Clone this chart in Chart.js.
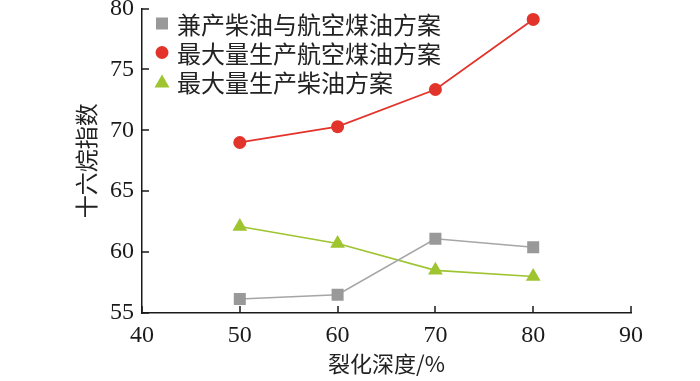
<!DOCTYPE html>
<html><head><meta charset="utf-8">
<script src="https://cdn.jsdelivr.net/npm/chart.js@4/dist/chart.umd.min.js"></script>
<style>html,body{margin:0;padding:0;background:#fff;}#wrap{width:700px;height:381px;}</style>
</head><body><div id="wrap"><canvas id="c" width="700" height="381"></canvas></div>
<script>
const crackingDepth = [50, 60, 70, 80];
const coProduction = [56.15, 56.5, 61.1, 60.4];
const maxJetFuel = [69.0, 70.3, 73.35, 79.1];
const maxDiesel = [62.1, 60.7, 58.5, 58.0];
const seriesNames = ['兼产柴油与航空煤油方案', '最大量生产航空煤油方案', '最大量生产柴油方案'];
const xTicks = [40, 50, 60, 70, 80, 90];
const yTicks = [55, 60, 65, 70, 75, 80];

const toPts = arr => crackingDepth.map((x, i) => ({x: x, y: arr[i]}));
const serif = "'Liberation Serif', serif";
const cjk = "'Noto Sans CJK SC', sans-serif";

const inwardTicks = {
  id: 'inwardTicks',
  afterDraw(chart) {
    const ctx = chart.ctx, xs = chart.scales.x, ys = chart.scales.y;
    ctx.save();
    ctx.strokeStyle = '#1a1a1a';
    ctx.lineWidth = 1.5;
    ctx.beginPath();
    xTicks.forEach(v => { const px = Math.round(xs.getPixelForValue(v)); ctx.moveTo(px, ys.bottom); ctx.lineTo(px, ys.bottom - 7); });
    yTicks.forEach(v => { const py = Math.round(ys.getPixelForValue(v)); ctx.moveTo(xs.left, py); ctx.lineTo(xs.left + 7, py); });
    ctx.stroke();
    ctx.restore();
  }
};

const customLegend = {
  id: 'customLegend',
  afterDraw(chart) {
    const ctx = chart.ctx, a = chart.chartArea;
    ctx.save();
    chart.data.datasets.forEach((ds, i) => {
      const cx = a.left + 20, cy = a.top + 15 + i * 29;
      ctx.fillStyle = ds.pointBackgroundColor;
      ctx.beginPath();
      if (ds.pointStyle === 'rect') { ctx.rect(cx - 6, cy - 6, 12, 12); }
      else if (ds.pointStyle === 'circle') { ctx.arc(cx, cy, 6.5, 0, Math.PI * 2); }
      else { ctx.moveTo(cx, cy - 7); ctx.lineTo(cx + 7.5, cy + 6); ctx.lineTo(cx - 7.5, cy + 6); ctx.closePath(); }
      ctx.fill();
      ctx.fillStyle = '#222';
      ctx.font = '24px ' + cjk;
      ctx.textAlign = 'left';
      ctx.textBaseline = 'middle';
      ctx.fillText(ds.label, a.left + 35, cy + 1);
    });
    ctx.restore();
  }
};

function build() {
new Chart(document.getElementById('c'), {
  type: 'line',
  data: {
    datasets: [
      {label: seriesNames[0], data: toPts(coProduction), borderColor: '#a6a6a6', backgroundColor: '#999999', pointBackgroundColor: '#999999', pointBorderWidth: 0, pointStyle: 'rect', pointRadius: 8.5, borderWidth: 1.6},
      {label: seriesNames[1], data: toPts(maxJetFuel), borderColor: '#e3342b', backgroundColor: '#e3342b', pointBackgroundColor: '#e3342b', pointBorderWidth: 0, pointStyle: 'circle', pointRadius: 6.5, borderWidth: 1.8},
      {label: seriesNames[2], data: toPts(maxDiesel), borderColor: '#9ec430', backgroundColor: '#9ec430', pointBackgroundColor: '#9ec430', pointBorderWidth: 0, pointStyle: 'triangle', pointRadius: 8.5, borderWidth: 1.6}
    ]
  },
  options: {
    responsive: false,
    animation: false,
    devicePixelRatio: 1,
    layout: {padding: {left: 72, right: 69, top: 8, bottom: 0}},
    plugins: {legend: {display: false}, tooltip: {enabled: false}},
    scales: {
      x: {
        type: 'linear', min: 40, max: 90,
        afterBuildTicks: s => { s.ticks = xTicks.map(v => ({value: v})); },
        afterFit: s => { s.height = 68; s.paddingLeft = 0; s.paddingRight = 0; },
        grid: {display: false, drawTicks: false},
        border: {display: true, color: '#1a1a1a', width: 1.5},
        ticks: {color: '#1a1a1a', font: {family: serif, size: 24}, padding: 8, maxRotation: 0},
        title: {display: true, text: '裂化深度/%', color: '#222', font: {family: cjk, size: 22}, padding: {top: 0, bottom: 4}}
      },
      y: {
        min: 55, max: 80,
        afterBuildTicks: s => { s.ticks = yTicks.map(v => ({value: v})); },
        afterFit: s => { s.width = 70; s.paddingTop = 0; s.paddingBottom = 0; },
        grid: {display: false, drawTicks: false},
        border: {display: true, color: '#1a1a1a', width: 1.5},
        ticks: {color: '#1a1a1a', font: {family: serif, size: 24}, padding: 8},
        title: {display: true, text: '十六烷指数', color: '#222', font: {family: cjk, size: 23}, padding: {top: 0, bottom: 0}}
      }
    }
  },
  plugins: [inwardTicks, customLegend]
});
}
Promise.all([
  document.fonts.load("24px 'Liberation Serif'", "0123456789"),
  document.fonts.load("23px 'Noto Sans CJK SC'", "十六烷指数")
]).then(build, build);
</script></body></html>
